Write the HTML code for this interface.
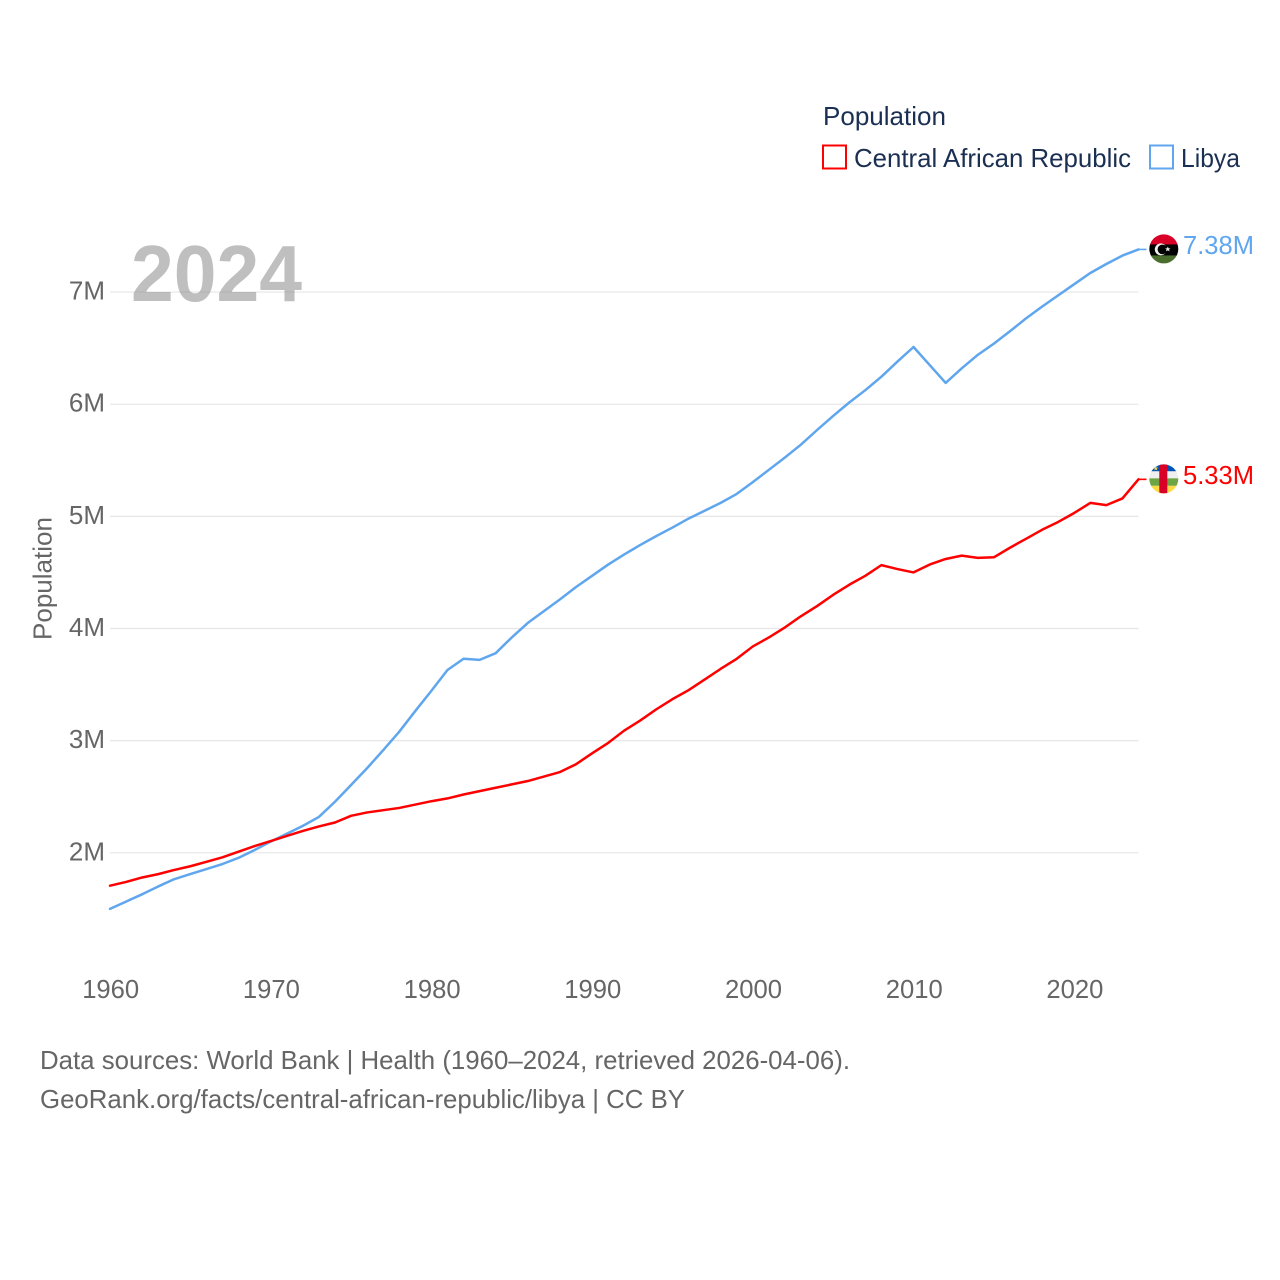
<!DOCTYPE html>
<html lang="en">
<head>
<meta charset="utf-8">
<title>Population: Central African Republic and Libya</title>
<style>
html,body{margin:0;padding:0;background:#fff;}
svg{display:block;font-family:"Liberation Sans",sans-serif;}
</style>
</head>
<body>
<svg id="chart" width="1280" height="1280" viewBox="0 0 1280 1280" xmlns="http://www.w3.org/2000/svg">
  <defs>
    <clipPath id="flag-clip"><circle cx="0" cy="0" r="14.5"></circle></clipPath>
  </defs>
  <rect x="0" y="0" width="1280" height="1280" fill="#ffffff"></rect>

  <g id="grid"></g>

  <text x="131" y="301" font-size="80" font-weight="700" fill="#808080" fill-opacity="0.5" textLength="171" lengthAdjust="spacingAndGlyphs">2024</text>

  <g id="y-ticks" font-size="26" fill="#666666" text-anchor="end"></g>
  <g id="x-ticks" font-size="26" fill="#666666" text-anchor="middle"></g>

  <text transform="translate(51.5,578.5) rotate(-90)" font-size="26" fill="#666666" text-anchor="middle" textLength="123" lengthAdjust="spacingAndGlyphs">Population</text>

  <g id="series"></g>

  <g id="flag-libya">
    <g clip-path="url(#flag-clip)">
      <rect x="-15" y="-15" width="30" height="11" fill="#d80027"></rect>
      <rect x="-15" y="-4.5" width="30" height="11.5" fill="#000000"></rect>
      <rect x="-15" y="6.5" width="30" height="9" fill="#496e2d"></rect>
      <circle cx="-3" cy="0.5" r="6" fill="#f0f0f0"></circle>
      <circle cx="-1.4" cy="0.5" r="4.8" fill="#000000"></circle>
      <polygon points="4,-2.4 4.8,-0.6 6.8,-0.6 5.2,0.6 5.8,2.5 4,1.4 2.2,2.5 2.8,0.6 1.2,-0.6 3.2,-0.6" fill="#f0f0f0"></polygon>
    </g>
  </g>

  <g id="flag-car">
    <g clip-path="url(#flag-clip)">
      <rect x="-15" y="-15" width="30" height="7.5" fill="#0052b4"></rect>
      <rect x="-15" y="-7.5" width="30" height="7" fill="#f0f0f0"></rect>
      <rect x="-15" y="-0.5" width="30" height="7.5" fill="#6da544"></rect>
      <rect x="-15" y="7" width="30" height="8" fill="#ffda44"></rect>
      <rect x="-4.5" y="-15" width="8" height="30" fill="#d80027"></rect>
      <polygon points="-8,-13 -7.4,-11.2 -5.5,-11.2 -7,-10.1 -6.5,-8.3 -8,-9.4 -9.5,-8.3 -9,-10.1 -10.5,-11.2 -8.6,-11.2" fill="#ffda44"></polygon>
    </g>
  </g>

  <g id="end-labels" font-size="26"></g>

  <g>
    <text x="823" y="125" font-size="26" fill="#1a2f52" textLength="123" lengthAdjust="spacingAndGlyphs">Population</text>
    <g>
      <rect x="823" y="145.5" width="23" height="23" fill="#ffffff" stroke="#ff0000" stroke-width="2"></rect>
      <text x="854" y="167" font-size="26" fill="#1a2f52" textLength="277" lengthAdjust="spacingAndGlyphs">Central African Republic</text>
    </g>
    <g>
      <rect x="1150" y="145.5" width="23" height="23" fill="#ffffff" stroke="#5fa6ee" stroke-width="2"></rect>
      <text x="1181" y="167" font-size="26" fill="#1a2f52" textLength="59" lengthAdjust="spacingAndGlyphs">Libya</text>
    </g>
  </g>

  <g font-size="26" fill="#666666">
    <text x="40" y="1069" textLength="810" lengthAdjust="spacingAndGlyphs">Data sources: World Bank | Health (1960–2024, retrieved 2026-04-06).</text>
    <text x="40" y="1108" textLength="645" lengthAdjust="spacingAndGlyphs">GeoRank.org/facts/central-african-republic/libya | CC BY</text>
  </g>
</svg>

<script>
const years = [1960,1961,1962,1963,1964,1965,1966,1967,1968,1969,1970,1971,1972,1973,1974,1975,1976,1977,1978,1979,1980,1981,1982,1983,1984,1985,1986,1987,1988,1989,1990,1991,1992,1993,1994,1995,1996,1997,1998,1999,2000,2001,2002,2003,2004,2005,2006,2007,2008,2009,2010,2011,2012,2013,2014,2015,2016,2017,2018,2019,2020,2021,2022,2023,2024];
const libyaValues = [1.50,1.565,1.63,1.70,1.765,1.81,1.855,1.90,1.955,2.025,2.10,2.17,2.24,2.32,2.455,2.605,2.755,2.915,3.08,3.265,3.445,3.63,3.73,3.72,3.78,3.92,4.05,4.155,4.26,4.37,4.47,4.57,4.66,4.745,4.825,4.90,4.98,5.05,5.12,5.20,5.305,5.415,5.525,5.64,5.77,5.895,6.015,6.125,6.245,6.38,6.51,6.35,6.19,6.32,6.44,6.54,6.65,6.765,6.87,6.97,7.07,7.17,7.25,7.325,7.38];
const carValues = [1.707,1.74,1.78,1.81,1.847,1.88,1.92,1.96,2.01,2.06,2.105,2.15,2.195,2.235,2.27,2.33,2.36,2.38,2.40,2.43,2.46,2.485,2.52,2.55,2.58,2.61,2.64,2.68,2.72,2.79,2.887,2.98,3.09,3.18,3.28,3.37,3.45,3.545,3.64,3.73,3.84,3.92,4.01,4.11,4.20,4.30,4.39,4.47,4.565,4.53,4.50,4.57,4.62,4.65,4.63,4.635,4.72,4.80,4.88,4.95,5.03,5.12,5.10,5.16,5.33];
const yTicks = [2,3,4,5,6,7];
const xTicks = [1960,1970,1980,1990,2000,2010,2020];

const NS = 'http://www.w3.org/2000/svg';
const xScale = function (year) { return 110 + (year - 1960) * (1138.5 - 110) / 64; };
const yScale = function (value) { return 852.8 - (value - 2) * 112.15; };

function make(tag, attrs, parent) {
  const node = document.createElementNS(NS, tag);
  Object.keys(attrs).forEach(function (k) { node.setAttribute(k, attrs[k]); });
  parent.appendChild(node);
  return node;
}

const gridGroup = document.getElementById('grid');
const yTickGroup = document.getElementById('y-ticks');
yTicks.forEach(function (t) {
  const line = make('line', { x1: xScale(1960), x2: xScale(2024), y1: yScale(t), y2: yScale(t), stroke: '#e6e6e6', 'stroke-width': 1.2 }, gridGroup);
  
  
  const label = make('text', { x: 105, y: yScale(t) + 7.5 }, yTickGroup);
  
  
  label.textContent = t + 'M';
});

const xTickGroup = document.getElementById('x-ticks');
xTicks.forEach(function (t) {
  const label = make('text', { x: xScale(t) + 0.7, y: 998, textLength: 57, lengthAdjust: 'spacingAndGlyphs' }, xTickGroup);
  
  
  label.textContent = String(t);
});

const seriesGroup = document.getElementById('series');
function drawSeries(values, color, name) {
  const pts = values.map(function (v, i) { return xScale(years[i]).toFixed(2) + ',' + yScale(v).toFixed(2); }).join(' ');
  const path = make('polyline', { points: pts, fill: 'none', stroke: color, 'stroke-width': 2.5, 'stroke-linejoin': 'round', 'stroke-linecap': 'round' }, seriesGroup);
  
  
  const lastY = yScale(values[values.length - 1]);
  const lastX = xScale(years[years.length - 1]);
  const lead = make('line', { x1: lastX, x2: lastX + 8, y1: lastY, y2: lastY, stroke: color, 'stroke-width': 1.6 }, seriesGroup);
  
  
  return lastY;
}

const endGroup = document.getElementById('end-labels');
function drawEnd(values, color, name, flagId) {
  const lastY = drawSeries(values, color, name);
  const flag = document.getElementById(flagId);
  flag.setAttribute('transform', 'translate(1163.8,' + (lastY - 0.5) + ')');
  const label = make('text', { x: 1183, y: lastY + 4.5, fill: color, textLength: 71, lengthAdjust: 'spacingAndGlyphs' }, endGroup);
  
  
  label.textContent = values[values.length - 1].toFixed(2) + 'M';
}

drawEnd(libyaValues, '#5fa6ee', 'libya', 'flag-libya');
drawEnd(carValues, '#ff0000', 'central-african-republic', 'flag-car');
</script>
</body>
</html>
